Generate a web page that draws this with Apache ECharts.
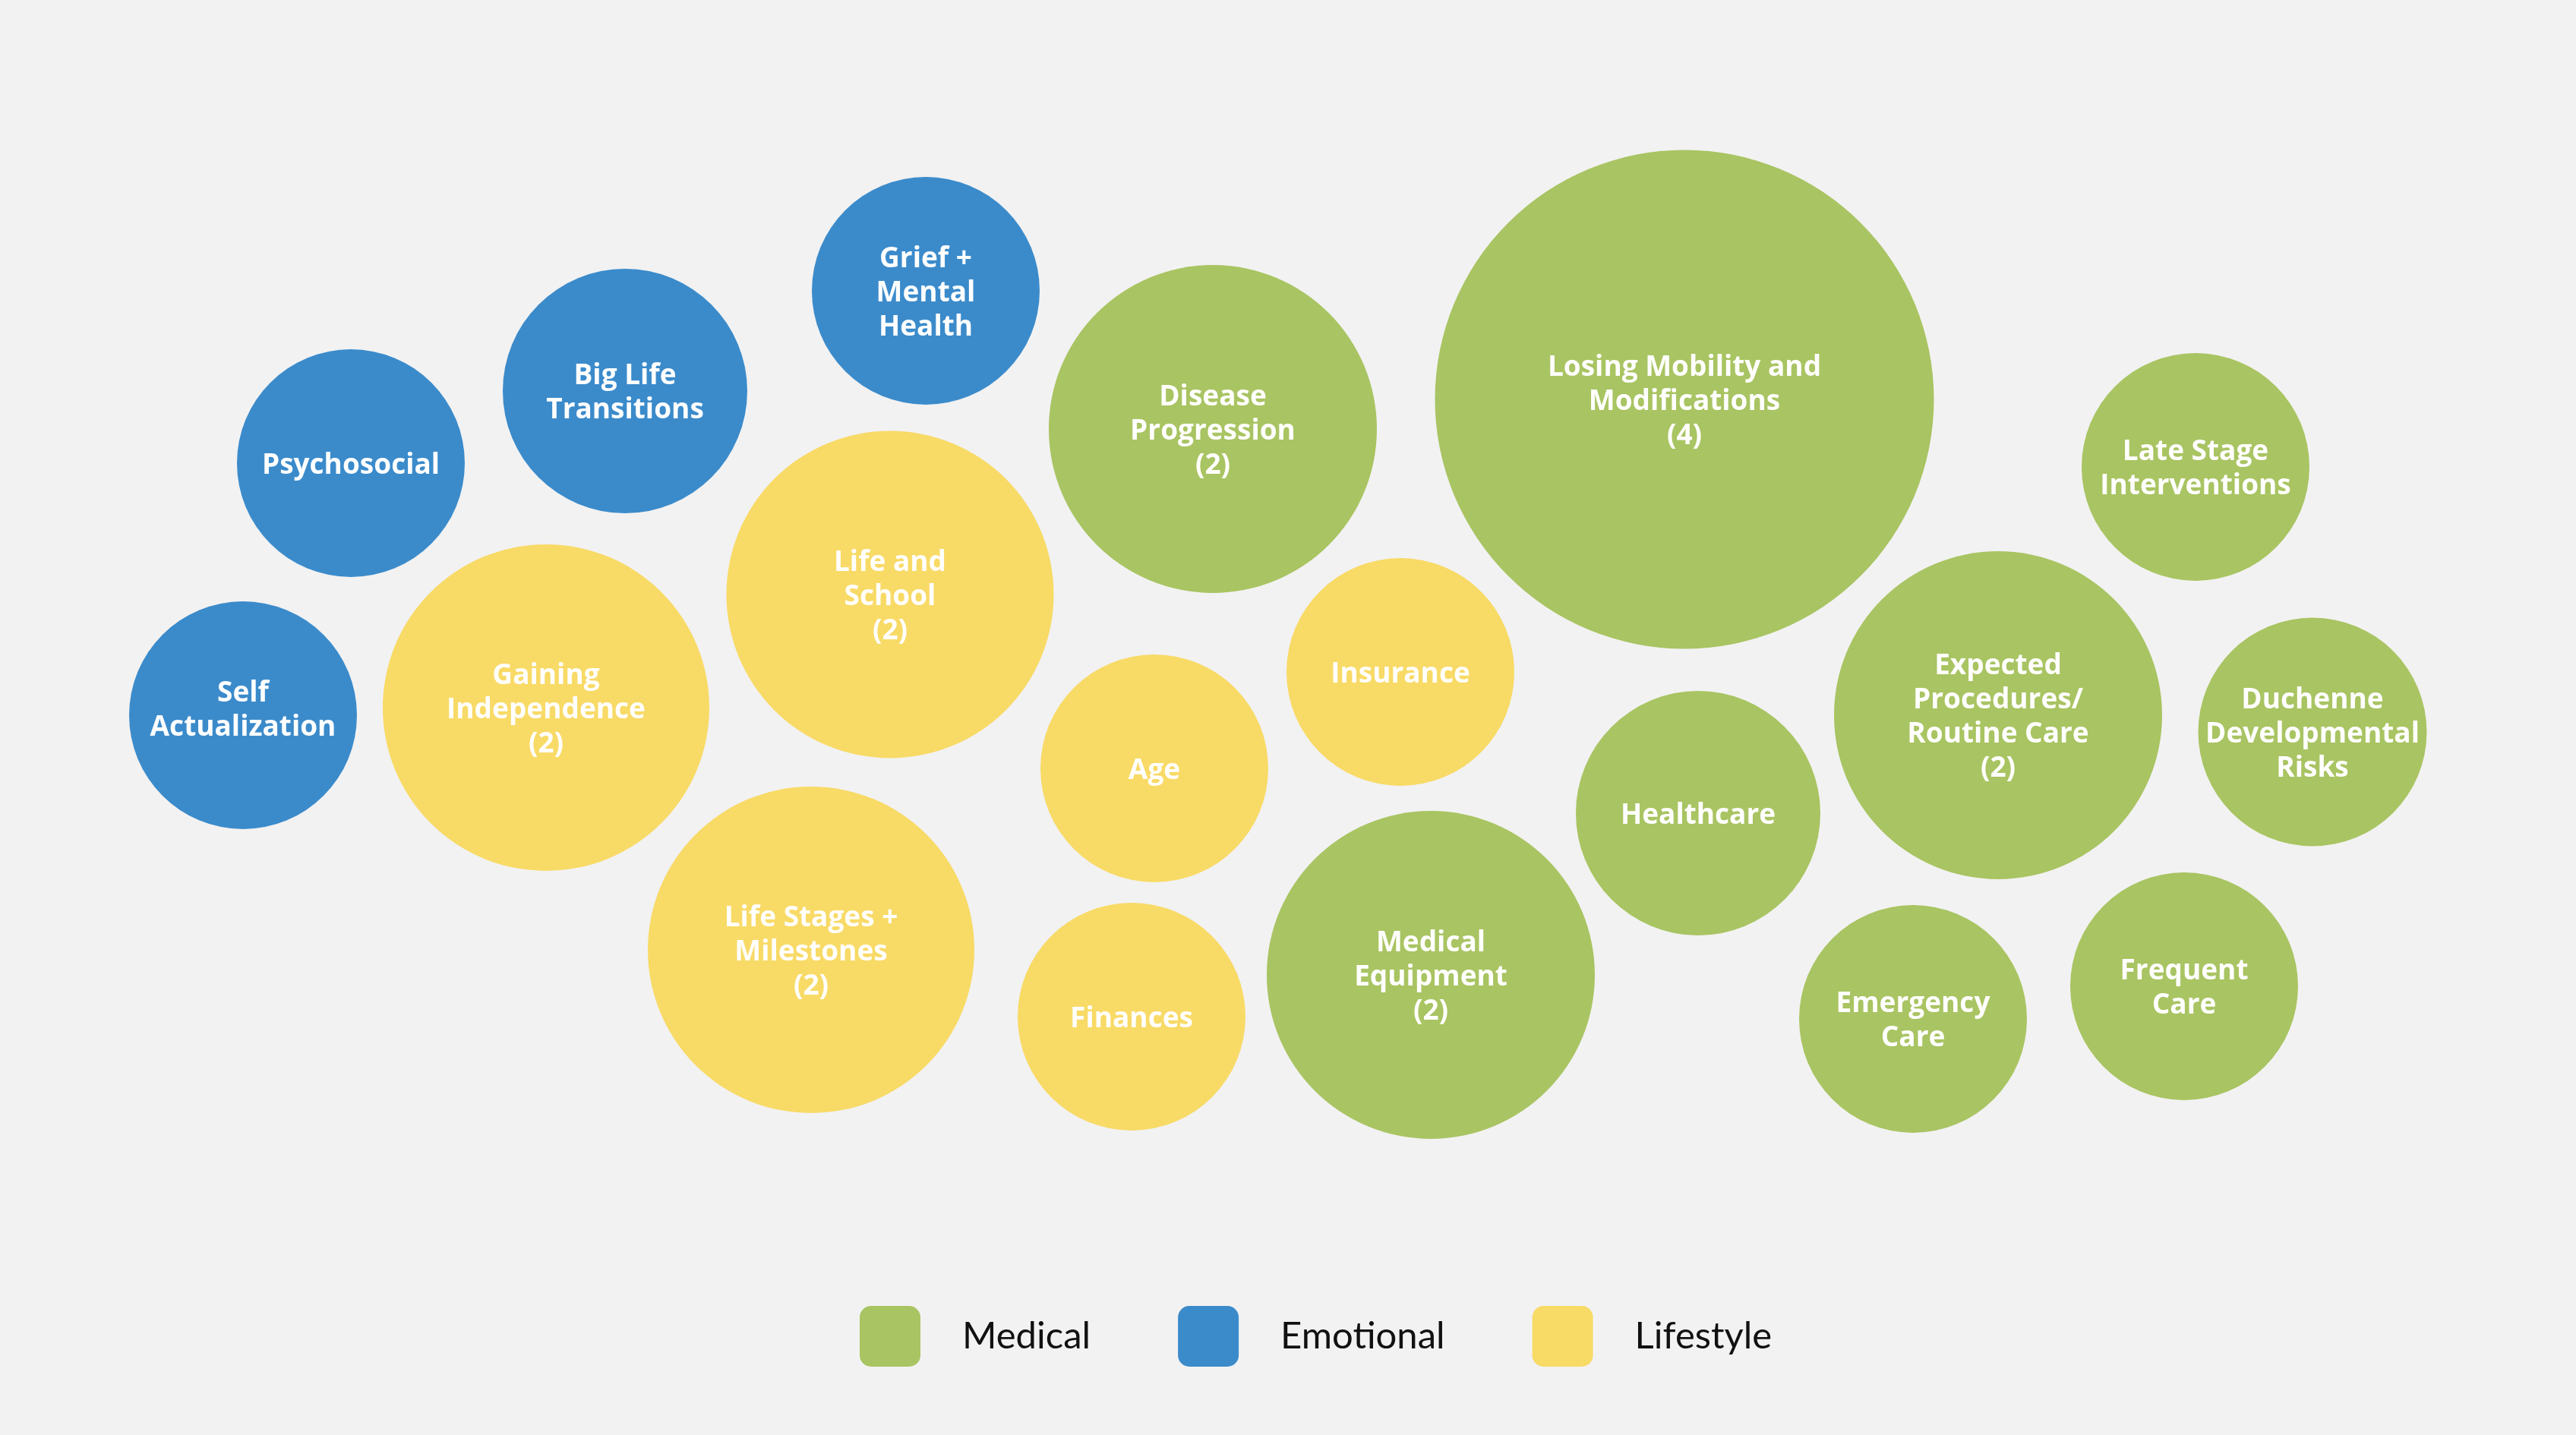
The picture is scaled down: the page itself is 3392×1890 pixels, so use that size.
<!DOCTYPE html>
<html>
<head>
<meta charset="utf-8">
<script src="https://cdn.jsdelivr.net/npm/echarts@6/dist/echarts.min.js"></script>
<style>
html,body{margin:0;padding:0;background:#f2f2f2;}
#chart{width:3392px;height:1890px;}
</style>
</head>
<body>
<div id="chart"></div>
<script>
// Topic bubbles (layout position in chart units, bubble diameter, group)
const topics = [
  'Self\nActualization', 'Psychosocial', 'Big Life\nTransitions', 'Grief +\nMental\nHealth',
  'Gaining\nIndependence\n(2)', 'Life and\nSchool\n(2)', 'Life Stages +\nMilestones\n(2)', 'Age', 'Finances', 'Insurance',
  'Disease\nProgression\n(2)', 'Losing Mobility and\nModifications\n(4)', 'Medical\nEquipment\n(2)', 'Healthcare',
  'Expected\nProcedures/\nRoutine Care\n(2)', 'Late Stage\nInterventions', 'Duchenne\nDevelopmental\nRisks', 'Emergency\nCare', 'Frequent\nCare'
];
const groups = [
  'Emotional', 'Emotional', 'Emotional', 'Emotional',
  'Lifestyle', 'Lifestyle', 'Lifestyle', 'Lifestyle', 'Lifestyle', 'Lifestyle',
  'Medical', 'Medical', 'Medical', 'Medical', 'Medical', 'Medical', 'Medical', 'Medical', 'Medical'
];
const xPos = [320, 462, 823, 1219, 719, 1172, 1068, 1520, 1490, 1844, 1597, 2218, 1884, 2236, 2631, 2891, 3045, 2519, 2876];
const yPos = [942, 610, 515, 383, 932, 783, 1251, 1012, 1339, 885, 565, 526, 1284, 1071, 942, 615, 964, 1342, 1299];
const diameters = [300, 300, 322, 300, 430, 431, 430, 300, 300, 300, 432, 657, 432, 322, 432, 300, 301, 300, 300];
const categories = ['Medical', 'Emotional', 'Lifestyle'];
const colors = {Medical: '#a9c462', Emotional: '#3b8bcb', Lifestyle: '#f8da66'};

const chart = echarts.init(document.getElementById('chart'), null, {renderer: 'canvas'});

const series = categories.map(cat => {
  const data = [];
  topics.forEach((t, i) => {
    if (groups[i] !== cat) return;
    const item = {name: t, value: [xPos[i], yPos[i], diameters[i]]};
    if (t === 'Self\nActualization') item.label = {offset: [0, -6]};
    data.push(item);
  });
  return {
    name: cat,
    type: 'scatter',
    data: data,
    symbol: 'circle',
    symbolSize: v => v[2],
    itemStyle: {color: colors[cat], opacity: 1},
    label: {
      show: true,
      position: 'inside',
      offset: [0, 3],
      formatter: p => p.name,
      color: '#ffffff',
      fontFamily: 'Open Sans',
      fontWeight: 'bold',
      fontSize: 37,
      lineHeight: 45,
      align: 'center'
    },
    emphasis: {disabled: true},
    silent: true
  };
});

const iconPath = 'path://M15,0 H65 A15,15 0 0 1 80,15 V65 A15,15 0 0 1 65,80 H15 A15,15 0 0 1 0,65 V15 A15,15 0 0 1 15,0 Z';

chart.setOption({
  backgroundColor: '#f2f2f2',
  animation: false,
  grid: {left: 0, right: 0, top: 0, bottom: 0, containLabel: false},
  xAxis: {type: 'value', min: 0, max: 3392, show: false},
  yAxis: {type: 'value', min: 0, max: 1890, inverse: true, show: false},
  legend: {
    data: categories.map(c => ({name: c, icon: iconPath})),
    left: 1132,
    top: 1720,
    padding: 0,
    itemWidth: 80,
    itemHeight: 80,
    itemGap: 115,
    selectedMode: false,
    textStyle: {
      fontFamily: 'Lato',
      fontSize: 49,
      color: '#111111',
      padding: [12, 0, 0, 50]
    }
  },
  series: series
});
</script>
</body>
</html>
